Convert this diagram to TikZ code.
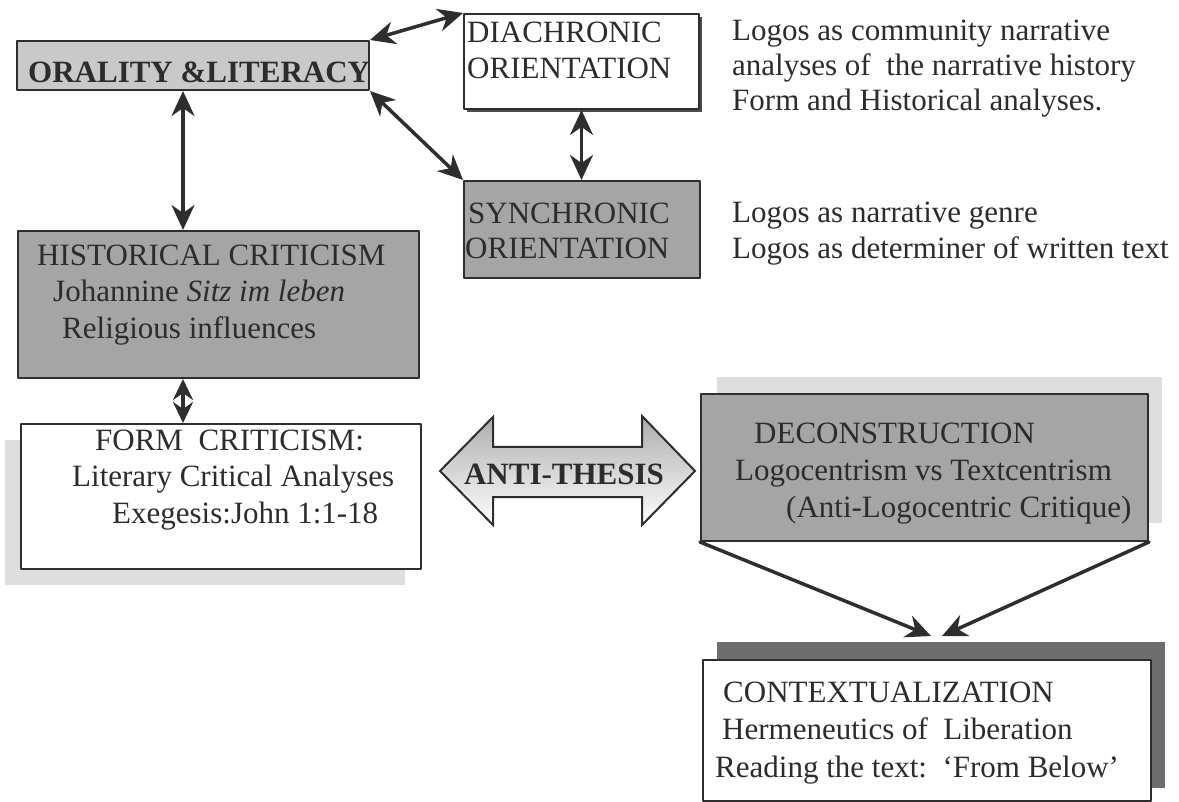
\documentclass[tikz,border=0pt]{standalone}
\usepackage{fontspec}
\setmainfont{Liberation Serif}
\usetikzlibrary{arrows.meta}
\definecolor{linec}{HTML}{2E2E2E}
\definecolor{textc}{HTML}{2C2C2C}
\definecolor{lightbox}{HTML}{C9C9C9}
\definecolor{midbox}{HTML}{A5A5A5}
\definecolor{paleshadow}{HTML}{DEDEDE}
\definecolor{darkshadow}{HTML}{6E6E6E}
\newcommand{\capstrut}{\rule{0pt}{24pt}}
\tikzset{
	box/.style={draw=linec, line width=2pt, anchor=north west, inner sep=0pt},
	txt/.style={text=textc, font=\fontsize{31}{36.5}\selectfont, inner sep=0pt, align=left, anchor=north west},
	link/.style={draw=linec, line width=3.5pt}
}
\begin{document}
\begin{tikzpicture}[line cap=round,line join=round,>={Stealth[length=25pt,width=23pt,inset=8pt]},x=1pt,y=-1pt]
		\useasboundingbox (0,0) rectangle (1179,802);
		% shadows
		\fill [paleshadow] (5,440) rectangle (405,585);
		\fill [paleshadow] (717,377) rectangle (1162,523);
		\fill [darkshadow] (717,642) rectangle (1165,788);
		\fill [linec!85] (467,17) rectangle (702,112);
		% boxes
		\node [box, fill=lightbox, minimum width=352pt, minimum height=49pt] (ora) at (16,40) {};
		\node [box, fill=white, minimum width=235pt, minimum height=95pt] (dia) at (463,13) {};
		\node [box, fill=midbox, minimum width=236pt, minimum height=97pt] (syn) at (463,180) {};
		\node [box, fill=midbox, minimum width=401pt, minimum height=147pt] (his) at (17,230) {};
		\node [box, fill=white, minimum width=400pt, minimum height=145pt] (frm) at (20,423) {};
		\node [box, fill=midbox, minimum width=447pt, minimum height=147pt] (dec) at (700,393) {};
		\node [box, fill=white, minimum width=448pt, minimum height=141pt] (ctx) at (702,659) {};
		% anti-thesis arrow
		\shadedraw [top color=gray!65, bottom color=white, draw=linec, line width=2pt, line cap=butt, line join=miter]
			(440,471) -- (493,417) -- (493,447) -- (642,447) -- (642,416) -- (695,471)
			-- (642,525) -- (642,497) -- (493,497) -- (493,525) -- cycle;
		% texts
		\node [txt, anchor=base west, font=\fontsize{31}{36.5}\selectfont\bfseries] (oraText) at (28,83) {ORALITY \&LITERACY};
		\node [txt, font=\fontsize{31}{36}\selectfont] (diaText) at (467,18) {\capstrut DIACHRONIC\\ORIENTATION};
		\node [txt, font=\fontsize{31}{35}\selectfont] (synText) at (465,199) {\capstrut\hspace{3pt}SYNCHRONIC\\ORIENTATION};
		\node [txt] (hisText) at (37,241) {\capstrut HISTORICAL CRITICISM\\\hspace{16pt}Johannine \textit{Sitz im leben}\\\hspace{25pt}Religious influences};
		\node [txt] (frmText) at (72,426) {\capstrut\hspace{23pt}FORM\ \ CRITICISM:\\Literary Critical Analyses\\\hspace{40pt}Exegesis:John 1:1-18};
		\node [txt, font=\fontsize{31}{37}\selectfont] (decText) at (735,419) {\capstrut\hspace{19pt}DECONSTRUCTION\\Logocentrism vs Textcentrism\\\hspace{51pt}(Anti-Logocentric Critique)};
		\node [txt, font=\fontsize{31}{37.5}\selectfont] (ctxText) at (715,678) {\capstrut\hspace{8pt}CONTEXTUALIZATION\\\hspace{7pt}Hermeneutics of\ \ Liberation\\Reading the text:\ \ `From Below'};
		\node [txt, font=\fontsize{31}{35}\selectfont] (diaNote) at (732,16) {\capstrut Logos as community narrative\\analyses of\ \ the narrative history\\Form and Historical analyses.};
		\node [txt, font=\fontsize{31}{36}\selectfont] (synNote) at (732,198) {\capstrut Logos as narrative genre\\Logos as determiner of written text};
		\node [txt, anchor=base, font=\fontsize{31}{36.5}\selectfont\bfseries] (anti) at (564,484) {ANTI-THESIS};
		% connectors
		\coordinate (meetL) at (931,636);
		\coordinate (meetR) at (942,636);
		\draw [link, <->] (ora.north east) -- (dia.north west);
		\draw [link, <->] (ora.south east) -- (syn.north west);
		\draw [link, <->] (dia.south) -- (dia.south |- syn.north);
		\draw [link, <->] ([xshift=-10pt]ora.south) -- ([xshift=-10pt]ora.south |- his.north);
		\draw [link, {Stealth[length=21pt,width=20pt,inset=7pt]}-{Stealth[length=21pt,width=20pt,inset=7pt]}] ([xshift=-10pt]ora.south |- his.south) -- ([xshift=-10pt]ora.south |- frm.north);
		\draw [link, ->] (dec.south west) -- (meetL);
		\draw [link, ->] (dec.south east) -- (meetR);
	\end{tikzpicture}
\end{document}
